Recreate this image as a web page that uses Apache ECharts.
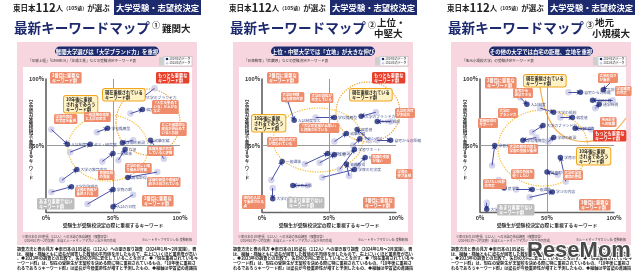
<!DOCTYPE html>
<html><head><meta charset="utf-8">
<script src="https://cdn.jsdelivr.net/npm/echarts@6/dist/echarts.min.js"></script>
<style>html,body{margin:0;padding:0;background:#fff}#c{width:641px;height:274px}</style>
</head><body><div id="c"></div>
<script>
// ---------- data (percent scale, 2023 -> 2024) ----------
const p1Old = [[81,93],[63,74],[38,60],[4,62],[65,54],[88,40],[42,38],[18,45],[12,24],[4,15],[83,30],[31,6],[65,13],[54,39]];
const p1New = [[72,86],[72,77],[46,63],[16,51],[57,52],[78,54],[50,44],[33,51],[23,32],[19,19],[61,26],[50,17],[50,4],[59,47]];
const p1Names = ['大学のブランド力','偏差値','学校推薦型','入試制度など','学部の新設','就職実績','一般選抜','ゼミ・研究室','大学の教育内容','大学別説明会','資格取得','学費の額','入試の日程','立地'];

const p2Old = [[19,84],[40,71],[85,75],[96,68],[80,54],[54,53],[7,24],[32,36],[43,37],[58,32],[65,27],[34,20],[8,18],[45,26],[71,35],[86,54],[68,50]];
const p2New = [[24,69],[54,71],[74,72],[86,68],[71,62],[63,59],[15,38],[49,44],[54,43],[69,47],[63,36],[23,20],[8,10],[69,32],[77,41],[96,54],[73,55]];
const p2Names = ['入試制度など','学校推薦型','大学のブランド力','大学の規模','偏差値','就職実績','一般選抜','学部の新設','立地','学習サポート','資格取得','学費の額','大学の場所','学修の充実度','研究内容','自宅からの距離','キャンパス'];

const p3Old = [[66,90],[99,99],[99,84],[45,78],[60,71],[83,62],[39,60],[30,86],[9,35],[42,56],[58,28],[64,23],[27,17],[37,11],[5,7],[14,24],[51,53],[86,78]];
const p3New = [[75,90],[92,92],[84,84],[55,75],[69,71],[71,63],[47,65],[35,81],[11,50],[32,54],[50,30],[60,41],[39,17],[54,15],[5,2],[18,18],[55,56],[89,81]];
const p3Names = ['自宅からの距離','立地','学部の数','大学の規模','偏差値','就職実績','大学のブランド力','入試制度','学習支援','学校推薦型','資格取得','学費の額','一般選抜','学びの内容','大学の設備','奨学金','学部の新設','通学時間'];

const panelTitles = [['①','難関大',''],['②','上位・','中堅大'],['③','地元','小規模大']];
const pillTexts = ['難関大学選びは「大学ブランド力」を重視','上位・中堅大学では「立地」が大きな伸び','その他の大学では自宅の距離、立地を重視'];
const subTexts = ['「早慶上理」「GMARCH」「芝浦工業」などの受験決定キーワード表','「日東駒専」「武蔵野」などの受験決定キーワード表','「地元小規模大学」の受験決定キーワード表'];
const xTicks = ['0%','50%','100%'];

// ---------- layout ----------
const FONT = '"Noto Sans CJK JP","Noto Sans",sans-serif';
const NAVY = '#1d2a6e';
const DOT = '#1a2878';
const LIGHT = '#cbcbe8';
const SALMON = '#ef8c6c';
const RED = '#e6412d';
const OX = [0, 216, 434];
const f = (s, w) => (w || '') + ' ' + s + 'px ' + FONT;

const series = [], grids = [], xAxes = [], yAxes = [], g = [];
const olds = [p1Old, p2Old, p3Old], news = [p1New, p2New, p3New], names = [p1Names, p2Names, p3Names];

function txt(x, y, text, font, fill, align, extra) {
  return {type:'text', x, y, z: 20, silent:true,
    style: Object.assign({text, font, fill, align: align || 'left', verticalAlign: 'middle'}, extra || {})};
}
function box(x, y, text, bg, color, font, extra) {
  return {type:'text', x, y, z: 22, silent:true,
    style: Object.assign({text, font: font || f(3.4,'bold'), fill: color || '#fff',
      lineHeight: 4, backgroundColor: bg, padding:[1,1.5], borderRadius: 1.5, align:'left', verticalAlign:'top'}, extra || {})};
}

for (let i = 0; i < 3; i++) {
  const ox = OX[i];
  grids.push({left: ox + 46, top: 79, width: 134, height: 133});
  xAxes.push({type:'value', gridIndex:i, min:0, max:100, interval:50,
    axisLine:{show:true, lineStyle:{color:'#666', width:1.3}}, axisTick:{show:false}, splitLine:{show:false},
    axisLabel:{formatter:(v)=>xTicks[v/50], fontSize:5.5, fontWeight:'bold', color:'#333', margin:3, fontFamily:FONT}});
  yAxes.push({type:'value', gridIndex:i, min:0, max:100, interval:50,
    axisLine:{show:true, lineStyle:{color:'#555', width:1.5}}, axisTick:{show:false}, splitLine:{show:false},
    axisLabel:{formatter:(v)=> v === 0 ? '' : xTicks[v/50], fontSize:5.5, fontWeight:'bold', color:'#333', margin:2, fontFamily:FONT}});
  series.push({type:'scatter', xAxisIndex:i, yAxisIndex:i, symbolSize:6.5, z:3, silent:true,
    itemStyle:{color:LIGHT}, data: olds[i],
    markLine:{silent:true, symbol:'none', label:{show:false}, lineStyle:{color:'#9a9a9a', width:1, type:'solid'},
      data:[{xAxis:50},{yAxis:50}]}});
  series.push({type:'lines', coordinateSystem:'cartesian2d', xAxisIndex:i, yAxisIndex:i, z:4, silent:true,
    symbol:['none','arrow'], symbolSize:4, lineStyle:{color:'#4a50a8', width:1, opacity:1},
    data: olds[i].map((o, k) => ({coords:[o, news[i][k]]}))});
  series.push({type:'scatter', xAxisIndex:i, yAxisIndex:i, symbolSize:5.5, z:5, silent:true,
    itemStyle:{color:DOT},
    label:{show:true, position:'right', distance:1, formatter:'{b}', fontSize:3.8, color:NAVY, fontFamily:FONT},
    data: news[i].map((v, k) => ({value:v, name:names[i][k]}))});

  // header
  g.push(txt(ox + 13, 8, '{a|東日本}{b|112}{a|人}{c|（105塾）}{a|が選ぶ}', f(7.5,'bold'), '#222', 'left',
    {rich:{a:{font:f(7.5,'bold'), fill:'#222'}, b:{font:f(11.5,'bold'), fill:'#222'}, c:{font:f(5,'bold'), fill:'#222'}}}));
  g.push({type:'rect', z:10, shape:{x: ox + 114, y: 0, width: 87, height: 15}, style:{fill:NAVY}});
  g.push(txt(ox + 157.5, 8, '大学受験・志望校決定', f(8.3,'bold'), '#fff', 'center'));
  g.push(txt(ox + 14, 28, '最新キーワードマップ', f(13.6,'bold'), NAVY));
  const t = panelTitles[i];
  g.push(txt(ox + 152, 25, t[0], f(8,'bold'), '#222'));
  if (t[2]) {
    g.push(txt(ox + 161, 22, t[1], f(9.5,'bold'), '#222'));
    g.push(txt(ox + 158, 33, t[2], f(9.5,'bold'), '#222'));
  } else {
    g.push(txt(ox + 162, 28, t[1], f(9.5,'bold'), '#222'));
  }
  // card
  g.push({type:'rect', z:-10, shape:{x: ox + 17, y: 42, width: 180, height: 203}, style:{fill:'#f7d6e0'}});
  g.push({type:'rect', z:-9, shape:{x: ox + 23, y: 67, width: 169, height: 165}, style:{fill:'#fff'}});
  g.push({type:'rect', z:10, shape:{x: ox + 55, y: 46.5, width: 104, height: 9.5, r: 4.75}, style:{fill:NAVY}});
  g.push(txt(ox + 107, 51.5, pillTexts[i], f(5.4,'bold'), '#fff', 'center'));
  g.push(txt(ox + 28, 61, subTexts[i], f(3.6), '#333'));
  // legend
  g.push({type:'rect', z:10, shape:{x: ox + 159, y: 57, width: 4, height: 8.5}, style:{fill:'#cfcfcf'}});
  g.push({type:'rect', z:10, shape:{x: ox + 164, y: 56.5, width: 28, height: 9.5}, style:{fill:'#fff', stroke:'#aaa', lineWidth:0.5}});
  g.push({type:'circle', z:11, shape:{cx: ox + 167, cy: 59, r: 1.3}, style:{fill:DOT}});
  g.push({type:'circle', z:11, shape:{cx: ox + 167, cy: 63.3, r: 1.3}, style:{fill:LIGHT}});
  g.push(txt(ox + 169.5, 59, '2024年のデータ', f(2.9), '#333'));
  g.push(txt(ox + 169.5, 63.3, '2023年のデータ', f(2.9), '#333'));
  // axis titles
  g.push(txt(ox + 31, 140, '学習塾が進路指導で重視するキ｜ワ｜ド'.split('').join('\n'), f(4.5,'bold'), '#333', 'center', {lineHeight:4.4}));
  g.push(txt(ox + 113, 225, '受験生が受験校決定の際に重視するキーワード', f(4.8,'bold'), '#333', 'center'));
  // footnotes
  g.push(txt(ox + 22, 236.5, '※東日本の105塾長（112人）への本誌の独自調査（複数回答）', f(3.1), '#444'));
  g.push(txt(ox + 22, 240.5, '（2024年1月～2月実施）本誌とルートマップマガジン社が共同作成', f(3.1), '#444'));
  g.push(txt(ox + 192, 239.5, '©ルートマップマガジン社 受験新報', f(3.1), '#444', 'right'));
  g.push({type:'text', x: ox + 17, y: 247, z: 20, silent:true, style:{
    text:'調査方法と表の見方 ◆東日本の105塾長（112人）への聞き取り調査（2024年1月～2月実施）。表は、縦軸・横軸ともに塾長が回答した数値の平均値を示したもので、右上にいくほど重要度が高い。◆2023年の調査との比較で、矢印の方向に変化していることを示す。◆「現在重視されているキーワード群」は、現在の受験生が志望校を決める際に特に重視されているもの。「10年後に重視されるであろうキーワード群」は塾長が今後重要性が増すと予測したもの。◆縦軸は学習塾の進路指導で重視するキーワード、横軸は受験生が受験校決定の際に重視するキーワードを示す。',
    font: f(4.1,'bold'), fill:'#222', width: 182, height: 25, overflow:'breakAll', lineOverflow:'truncate', lineHeight:4.7, align:'left', verticalAlign:'top'}});
}

// quadrant / group boxes  [x, y, text, kind]
const boxes = [
  [50,72,'2番目に重要な\nキーワード群','s'],[156,72,'もっとも重要な\nキーワード群','r'],[37,198,'あまり重要でない\nキーワード群','g'],[142,195,'3番目に重要な\nキーワード群','s'],
  [103,89,'現在重視されている\nキーワード群','y'],[64,96,'10年後に重視\nされるであろう\nキーワード群','y'],
  [267,72,'2番目に重要な\nキーワード群','s'],[372,72,'もっとも重要な\nキーワード群','r'],[287,197,'あまり重要でない\nキーワード群','g'],[363,197,'3番目に重要な\nキーワード群','s'],
  [350,89,'現在重視されている\nキーワード群','y'],[252,115,'10年後に重視\nされるであろう\nキーワード群','y'],
  [485,77,'2番目に重要な\nキーワード群','s'],[593,130,'もっとも重要な\nキーワード群','r'],[497,204,'あまり重要でない\nキーワード群','g'],[579,199,'3番目に重要な\nキーワード群','s'],
  [524,75,'現在重視されている\nキーワード群','y'],[577,148,'10年後に重視\nされるであろう\nキーワード群','y']
];
const kinds = {s:[SALMON,'#fff'], r:[RED,'#fff'], g:['#bdbdbd','#fff'], y:['#fff2c4','#222']};
boxes.forEach(b => {
  const k = kinds[b[3]];
  g.push(box(b[0], b[1], b[2], k[0], k[1], f(4.2,'bold'),
    Object.assign({lineHeight:4.8, padding:[1,2]}, b[3] === 'y' ? {borderColor:'#f2a51f', borderWidth:1, borderRadius:2} : {})));
});

// callouts [x, y, text]
const callouts = [
  [152,100,'「人気を集めて\nいる」が上がる\nなど'],[160,122,'どこか発展的な\n成長が見込めて\nいる人気校'],[54,114,'学習内容の\n充実度を重視'],
  [84,112,'一般選抜の改革\nと入試の変化'],[147,146,'就職支援が充実\nしていると評価'],[125,163,'大学の新しい取\nり組みが評価'],
  [147,177,'学部の新設や改組が\n続き注目されている'],[98,170,'資格取得\nの支援'],[75,187,'学費の負担が\n重視される'],
  [281,92,'大学の特徴\nある教育内容'],[310,93,'大学の設備が\n充実している'],[395,108,'入試の方式\nが多様化'],
  [299,123,'「大学の支援が手厚い」\nと評価されている'],[267,137,'大学の施設の充実\nが問われている'],[371,154,'就職の支援\nが強い'],
  [396,169,'学費の\n安さ重視'],[242,195,'現在の入試\nで重視される\n点'],
  [513,88,'自宅から\n通学できる'],[498,108,'大学の\nブランド力'],[598,73,'立地の良さ\nが重視'],[615,86,'学習環境\nの充実'],
  [600,117,'地元企業\nへの就職'],[478,118,'資格取得の\nサポート'],[508,144,'大学の教育内容と\n学習の支援が重視'],
  [511,169,'学費の負担を\n軽くしたい'],[563,170,'大学の学習\n環境の整備'],[483,179,'学びたい分野\nの充実']
];
callouts.forEach(c => g.push(box(c[0], c[1], c[2], SALMON, '#fff')));

// dotted curves
const dotStyle = (c) => ({fill:'none', stroke:c, lineWidth:1.4, lineDash:[0.1,2.4], lineCap:'round'});
[[148,122,32,33,'#f3a634'],[108,148,40,33,'#f6c24a'],[368,112,32,30,'#f3a634'],[318,140,45,32,'#f6c24a'],[543,148,45,38,'#f6c24a']]
  .forEach(e => g.push({type:'ellipse', z:1, silent:true, shape:{cx:e[0], cy:e[1], rx:e[2], ry:e[3]}, style:dotStyle(e[4])}));
g.push({type:'polyline', z:1, silent:true, shape:{points:[[540,87],[546,112],[557,131],[573,140],[592,141],[612,133],[626,118]], smooth:0.4},
  style:{fill:'none', stroke:'#f5b45a', lineWidth:1.3}});

// watermark
g.push({type:'text', x:527, y:251, z:50, silent:true,
  style:{text:'ReseMom', font:'bold 22px "Liberation Sans", Arial, sans-serif', fill:'#4a4a4a', stroke:'#ffffff', lineWidth:2, align:'left', verticalAlign:'middle'}});

const chart = echarts.init(document.getElementById('c'), null, {renderer:'canvas'});
chart.setOption({animation:false, backgroundColor:'#fff', grid:grids, xAxis:xAxes, yAxis:yAxes, series, graphic:{elements:g}});
</script></body></html>
